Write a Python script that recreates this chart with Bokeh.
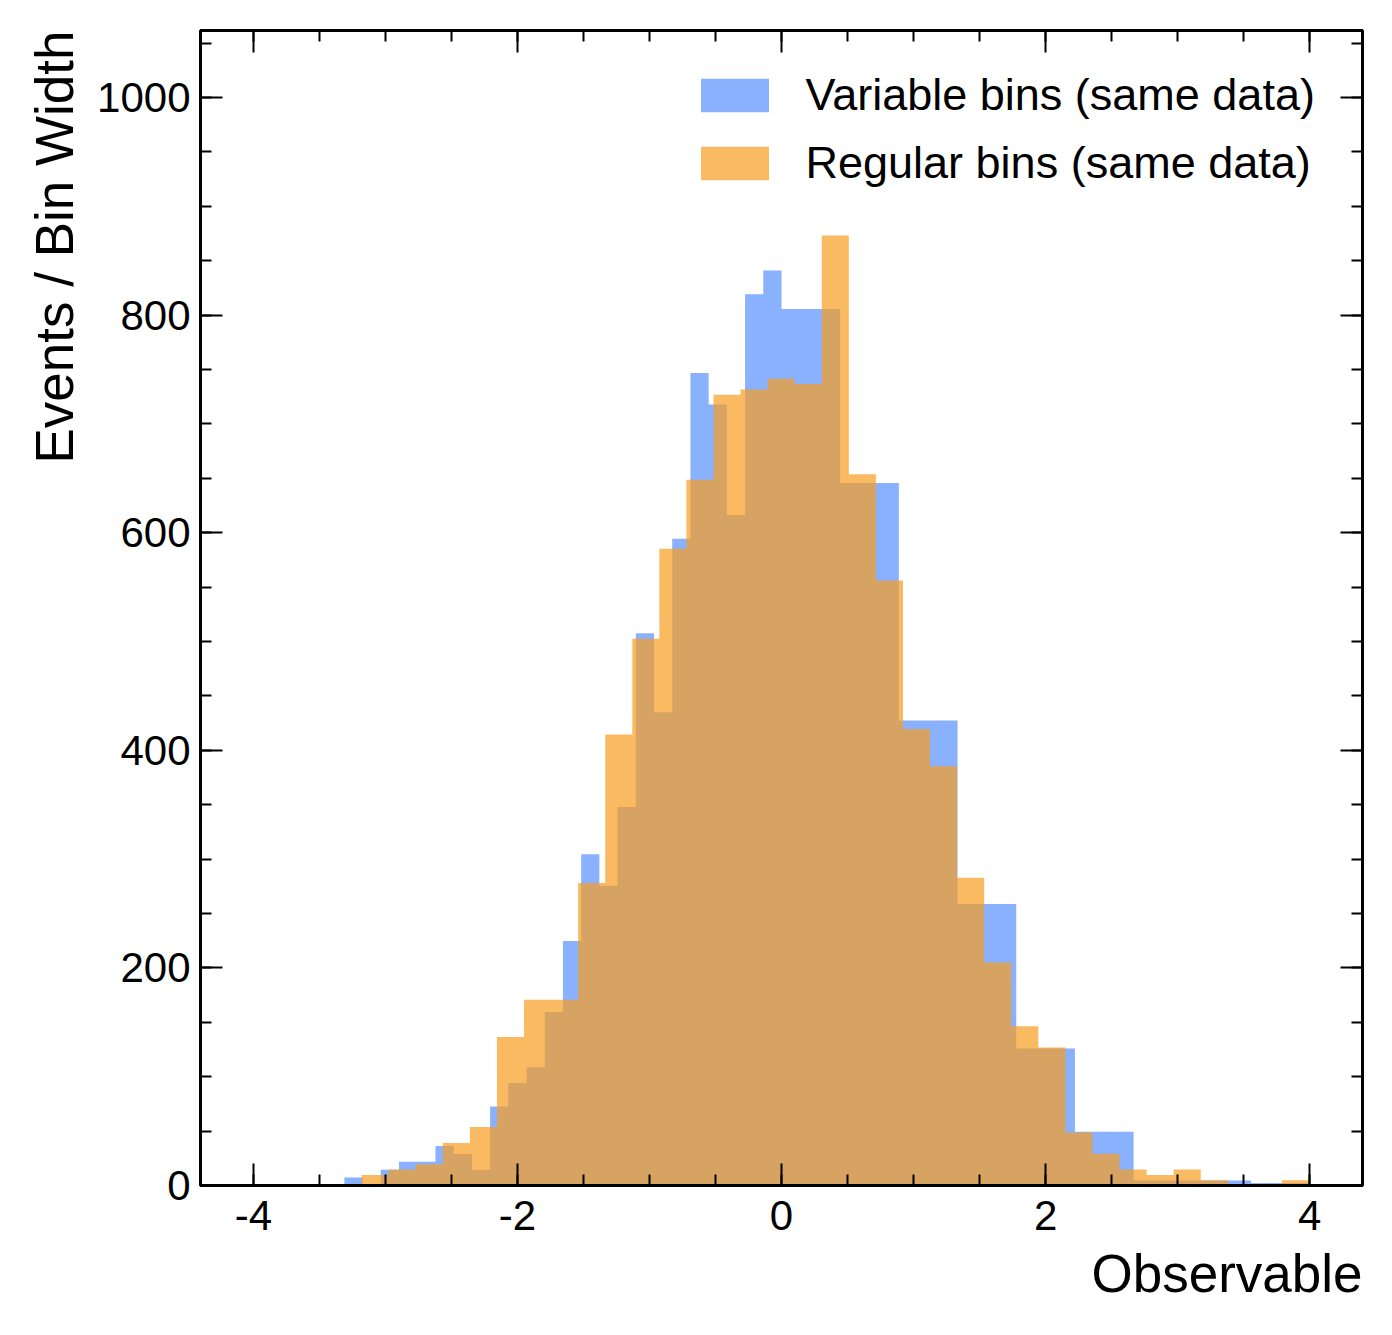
from bokeh.plotting import figure
from bokeh.models import (Range1d, FixedTicker, LinearAxis, Legend,
                          LegendItem, ColumnDataSource, Title)
from bokeh.embed import file_html
from bokeh.resources import INLINE

# ---------------- data ----------------
# variable-width binning: fine bins below 0, coarse bins above 0
var_edges = [-4.0, -3.86207, -3.72414, -3.58621, -3.44828, -3.31034, -3.17241,
             -3.03448, -2.89655, -2.75862, -2.62069, -2.48276, -2.34483, -2.2069,
             -2.06897, -1.93103, -1.7931, -1.65517, -1.51724, -1.37931, -1.24138,
             -1.10345, -0.96552, -0.82759, -0.68966, -0.55172, -0.41379, -0.27586,
             -0.13793, 0.0, 0.44444, 0.88889, 1.33333, 1.77778, 2.22222, 2.66667,
             3.11111, 3.55556, 4.0]
var_counts = [0, 0, 0, 0, 0, 1, 0, 2, 3, 3, 5, 4, 2, 10, 13, 15, 22, 31, 42, 38,
              48, 70, 60, 82, 103, 99, 85, 113, 116,
              358, 287, 190, 115, 56, 22, 2, 2, 1]

# regular binning over the data range (35 bins)
reg_edges = [-3.18, -2.975, -2.77, -2.565, -2.36, -2.155, -1.95, -1.745, -1.54,
             -1.335, -1.13, -0.925, -0.72, -0.515, -0.31, -0.105, 0.1, 0.305,
             0.51, 0.715, 0.92, 1.125, 1.33, 1.535, 1.74, 1.945, 2.15, 2.355,
             2.56, 2.765, 2.97, 3.175, 3.38, 3.585, 3.79, 3.995]
reg_counts = [2, 3, 4, 8, 11, 28, 35, 35, 57, 85, 103, 120, 133, 149, 150, 152,
              151, 179, 134, 114, 86, 79, 58, 42, 30, 26, 10, 6, 3, 2, 3, 1, 0, 0, 1]

labels = ["Variable bins (same data)", "Regular bins (same data)"]
colors = ["#5790fc", "#f89c20"]
x_label = "Observable"
y_label = "Events / Bin Width"
x_major = [-4, -2, 0, 2, 4]
x_major_text = ["-4", "-2", "0", "2", "4"]
y_major = [0, 200, 400, 600, 800, 1000]

FONT = "Liberation Sans"
X0, X1 = -4.4, 4.4
Y0, Y1 = 0.0, 1061.6


def step_source(edges, counts):
    dens = [c / (r - l) for c, l, r in zip(counts, edges[:-1], edges[1:])]
    return ColumnDataSource(dict(x=list(edges), y=dens + [0.0]))


p = figure(frame_width=1162, frame_height=1155,
           x_range=Range1d(X0, X1), y_range=Range1d(Y0, Y1),
           output_backend="svg", toolbar_location=None,
           min_border_left=200, min_border_right=22,
           min_border_top=30, min_border_bottom=140,
           background_fill_color="white", border_fill_color="white")

p.xgrid.visible = False
p.ygrid.visible = False
p.outline_line_color = "black"
p.outline_line_width = 3
p.outline_line_alpha = 1.0

r_var = p.varea_step(x="x", y1=0, y2="y", step_mode="after",
                     source=step_source(var_edges, var_counts),
                     fill_color=colors[0], fill_alpha=0.7)
r_reg = p.varea_step(x="x", y1=0, y2="y", step_mode="after",
                     source=step_source(reg_edges, reg_counts),
                     fill_color=colors[1], fill_alpha=0.7)

x_minor = [-4.0 + 0.5 * i for i in range(17)]
y_minor = [50 * i for i in range(22)]

p.add_layout(LinearAxis(), "above")
p.add_layout(LinearAxis(), "right")


def style(ax, ticks, minor, texts, standoff=10):
    ax.ticker = FixedTicker(ticks=ticks, minor_ticks=minor)
    ax.axis_line_color = "black"
    ax.axis_line_width = 3
    ax.major_tick_in = 22
    ax.major_tick_out = 0
    ax.minor_tick_in = 11
    ax.minor_tick_out = 0
    ax.major_tick_line_width = 2
    ax.minor_tick_line_width = 2
    ax.major_tick_line_color = "black"
    ax.minor_tick_line_color = "black"
    ax.major_label_text_font = FONT
    ax.major_label_text_color = "black"
    if texts is not None:
        ax.major_label_text_font_size = "42px"
        ax.major_label_standoff = standoff
        ax.major_label_overrides = {t: s for t, s in zip(ticks, texts)}
    else:
        ax.major_label_text_font_size = "1px"
        ax.major_label_standoff = 0
        ax.major_label_overrides = {t: "" for t in ticks}


for ax in p.below:
    style(ax, x_major, x_minor, x_major_text, standoff=15)
for ax in p.above:
    style(ax, x_major, x_minor, None)
for ax in p.left:
    style(ax, y_major, y_minor, [str(v) for v in y_major], standoff=10)
for ax in p.right:
    style(ax, y_major, y_minor, None)

legend = Legend(items=[LegendItem(label=labels[0], renderers=[r_var]),
                       LegendItem(label=labels[1], renderers=[r_reg])],
                location=(491.5, 996.5), margin=0, padding=0, spacing=16,
                glyph_width=85, glyph_height=42, label_standoff=29,
                label_text_font=FONT, label_text_font_size="45px",
                label_text_color="black",
                border_line_alpha=0, background_fill_alpha=0)
p.add_layout(legend)

p.add_layout(Title(text=x_label, align="right", text_font=FONT,
                   text_font_size="53px", text_font_style="normal",
                   text_color="black", standoff=18), "below")
p.add_layout(Title(text=y_label, align="right", text_font=FONT,
                   text_font_size="53px", text_font_style="normal",
                   text_color="black", standoff=22), "left")

open("out.html", "w").write(file_html(p, INLINE))
